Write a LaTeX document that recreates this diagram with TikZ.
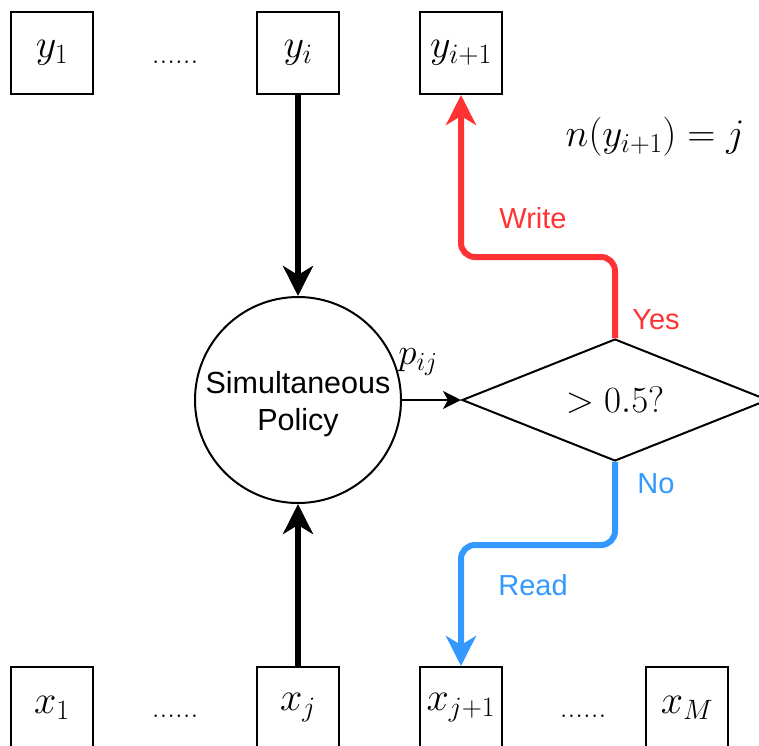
\RequirePackage{fix-cm}
\documentclass[tikz,border=0pt]{standalone}
\usepackage{fontspec}
\newfontfamily\hv{Liberation Sans}
\usetikzlibrary{arrows.meta,shapes.geometric}
\definecolor{wred}{HTML}{FF3333}
\definecolor{rblue}{HTML}{3399FF}
\tikzset{
  cell/.style={draw, line width=2pt, minimum width=82pt, minimum height=82pt, inner sep=0pt, font=\fontsize{40}{46}\selectfont},
  lbl/.style={inner sep=0pt, font=\hv\fontsize{29}{35}\selectfont},
  mlbl/.style={inner sep=0pt, font=\fontsize{39}{46}\selectfont},
  dots/.style={inner sep=0pt, anchor=base, font=\fontsize{31}{36}\selectfont},
  bigtip/.style={-{Stealth[length=30pt, width=30pt, inset=9pt]}},
  smalltip/.style={-{Stealth[length=18pt, width=18pt, inset=5pt]}},
  heavy/.style={line width=6pt, bigtip},
  branch/.style={line width=6pt, bigtip, rounded corners=14pt},
}
\begin{document}
\begin{tikzpicture}[x=1pt, y=-1pt]
\useasboundingbox (0,0) rectangle (759,745);
\clip (0,0) rectangle (759,745);
% top row
\node[cell] (y1) at (52,53) {$y_1$};
\node[dots] (ydots) at (175,63) {......};
\node[cell] (yi) at (298,53) {$y_i$};
\node[cell] (yi1) at (461,53) {$y_{i+1}$};
% bottom row
\node[cell] (x1) at (52,708) {$x_1$};
\node[dots] (xdotsa) at (175,717) {......};
\node[cell] (xj) at (298,708) {$x_j$};
\node[cell] (xj1) at (461,708) {$x_{j+1}$};
\node[dots] (xdotsb) at (583,717) {......};
\node[cell] (xM) at (687,708) {$x_M$};
% policy
\node[draw, circle, line width=2pt, minimum size=206pt, inner sep=0pt, align=center,
      font=\hv\fontsize{30.5}{37}\selectfont] (pol) at (298,400) {\rule{0pt}{31pt}Simultaneous\\Policy};
% decision
\node[draw, diamond, line width=2pt, aspect=2.5, minimum width=306pt, minimum height=122pt,
      inner sep=0pt, font=\fontsize{37}{44}\selectfont] (dec) at (615,400) {$>0.5?$};
% labels
\node[mlbl, font=\fontsize{37}{44}\selectfont] (pij) at (418,362) {$p_{ij}$};
\node[mlbl] (nlab) at (655,137) {$n(y_{i+1})=j$};
\node[lbl, text=wred] (write) at (533,218) {Write};
\node[lbl, text=wred] (yes) at (656,320) {Yes};
\node[lbl, text=rblue] (no) at (656,484) {No};
\node[lbl, text=rblue] (read) at (533,585) {Read};
% connectors
\draw[heavy] (yi.south) -- (pol.north);
\draw[heavy] (xj.north) -- (pol.south);
\draw[line width=2pt, smalltip] (pol.east) -- (dec.west);
\draw[branch, wred] (dec.north) -- (dec.north |- 0,257) -| (yi1.south);
\draw[branch, rblue] (dec.south) -- (dec.south |- 0,545) -| (xj1.north);
\end{tikzpicture}
\end{document}
